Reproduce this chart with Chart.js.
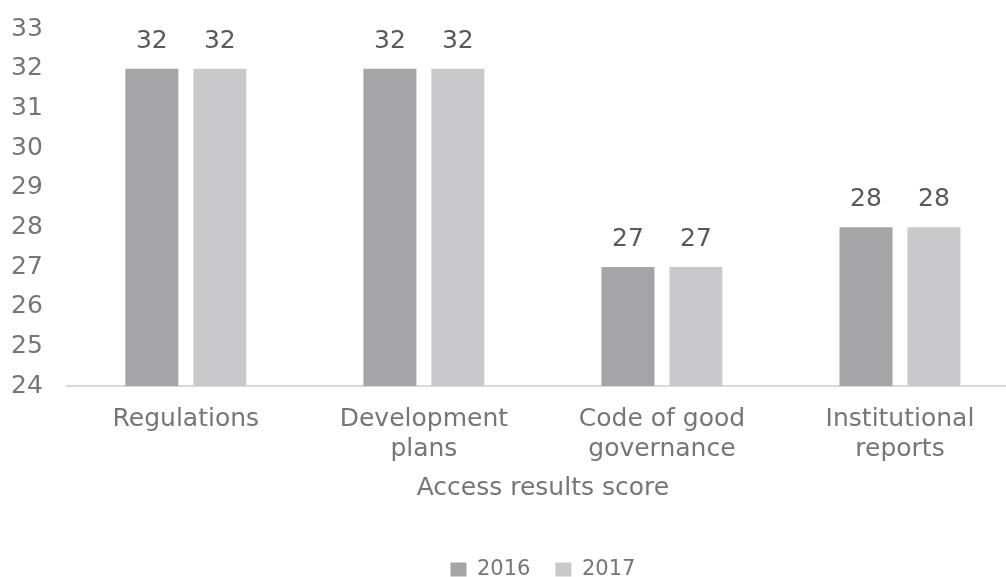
<!DOCTYPE html>
<html>
<head>
<meta charset="utf-8">
<script src="https://cdn.jsdelivr.net/npm/chart.js@4"></script>
<style>
  html, body { margin: 0; padding: 0; background: #fff; overflow: hidden; width: 1006px; height: 577px; }
  /* canvas is a bit larger than the window so the plot spans like the original */
  #wrap { width: 1032px; height: 600px; margin-left: -13px; margin-top: -10px; }
</style>
</head>
<body>
<div id="wrap"><canvas id="chart"></canvas></div>
<script>
const categories = [
  'Regulations',
  ['Development', 'plans'],
  ['Code of good', 'governance'],
  ['Institutional', 'reports']
];
const values2016 = [32, 32, 27, 28];
const values2017 = [32, 32, 27, 28];
const yTicks = [24, 25, 26, 27, 28, 29, 30, 31, 32, 33];

const FONT = '"DejaVu Sans", sans-serif';
Chart.defaults.font.family = FONT;

// value labels above the bars
const barValues = {
  id: 'barValues',
  afterDatasetsDraw(chart) {
    const ctx = chart.ctx;
    ctx.save();
    ctx.font = '25px ' + FONT;
    ctx.fillStyle = '#595959';
    ctx.textAlign = 'center';
    ctx.textBaseline = 'alphabetic';
    chart.data.datasets.forEach((ds, i) => {
      chart.getDatasetMeta(i).data.forEach((bar, j) => {
        ctx.fillText(ds.data[j], bar.x, bar.y - 21);
      });
    });
    ctx.restore();
  }
};

new Chart(document.getElementById('chart'), {
  type: 'bar',
  data: {
    labels: categories,
    datasets: [
      { label: '2016', data: values2016, backgroundColor: '#a5a5a8' },
      { label: '2017', data: values2017, backgroundColor: '#c9c9cb' }
    ]
  },
  options: {
    responsive: true,
    maintainAspectRatio: false,
    animation: false,
    categoryPercentage: 0.571,
    barPercentage: 0.78,
    layout: { padding: { top: 1, left: 0, right: 0, bottom: 0 } },
    scales: {
      x: {
        grid: { display: false, drawTicks: false },
        border: { display: true, color: '#d9d9d9', width: 2 },
        ticks: {
          color: '#767676',
          font: { family: FONT, size: 25, lineHeight: 1.2 },
          padding: 18,
          maxRotation: 0
        },
        title: {
          display: true,
          text: 'Access results score',
          color: '#767676',
          font: { family: FONT, size: 25 },
          padding: { top: -9, bottom: 31 }
        }
      },
      y: {
        min: 24,
        max: 33,
        afterBuildTicks(scale) {
          scale.ticks = yTicks.map(v => ({ value: v }));
        },
        grid: { display: false, drawTicks: false },
        border: { display: false },
        ticks: {
          color: '#767676',
          font: { family: FONT, size: 25 },
          padding: 24
        }
      }
    },
    plugins: {
      legend: {
        position: 'bottom',
        fullSize: false,
        labels: {
          color: '#767676',
          font: { family: FONT, size: 21 },
          boxWidth: 16,
          boxHeight: 14,
          padding: 25
        }
      },
      tooltip: { enabled: false }
    }
  },
  plugins: [barValues]
});
</script>
</body>
</html>
